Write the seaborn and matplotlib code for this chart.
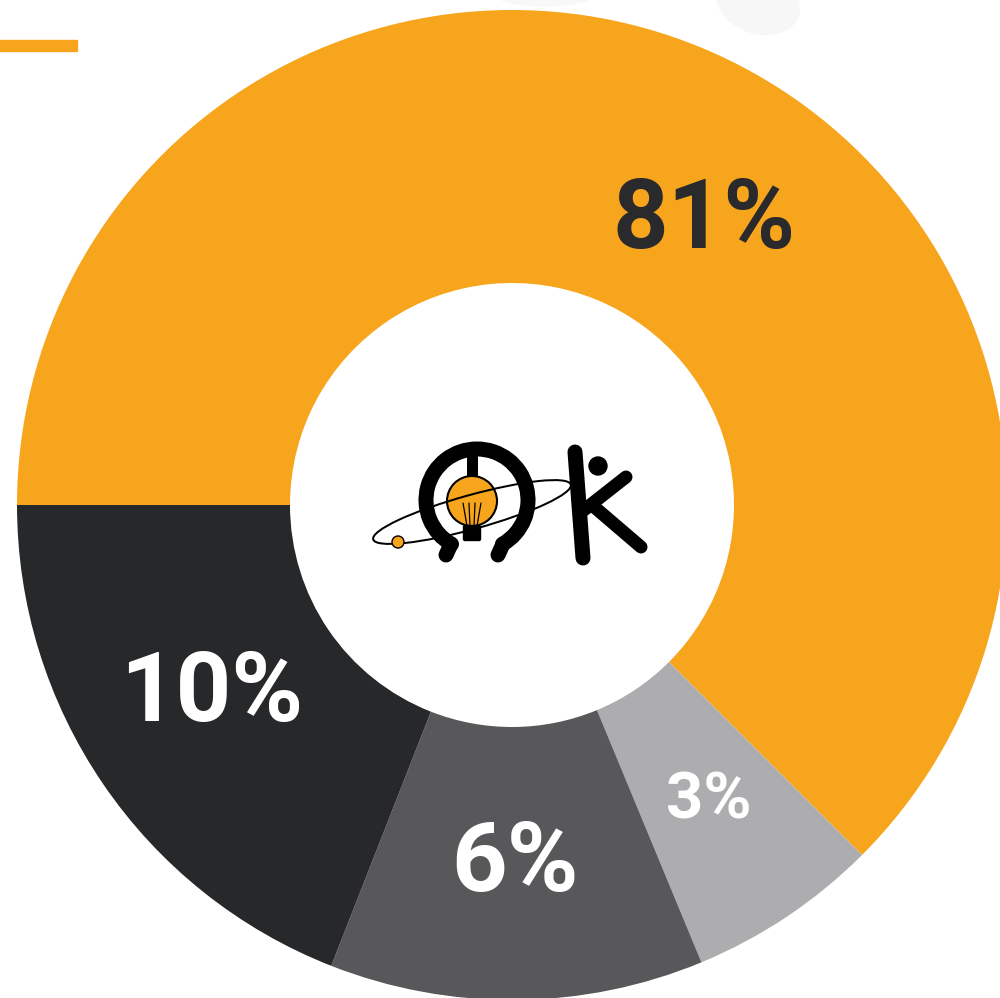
import numpy as np
import matplotlib
matplotlib.use("Agg")
import matplotlib.pyplot as plt
import matplotlib.patches as mpatches
import seaborn as sns

sns.set_style("white")
plt.rcParams['font.family'] = ['Roboto', 'DejaVu Sans']

# ---- data ----
labels = ['81%', '3%', '6%', '10%']
# angular share of each ring segment as drawn (the artwork is not to scale)
slice_sizes = [62.5, 6.25, 12.2, 19.05]
colors = ['#F7A51C', '#ADADAF', '#58585B', '#27282A']
text_colors = ['#2A2A2D', 'white', 'white', 'white']
font_sizes = [70, 47, 70, 70]
label_nudge = [-10.7, 0.5, 0, -3.4]   # degrees off the segment middle

PX = 0.72  # points per pixel at dpi 100
H = 998

fig = plt.figure(figsize=(10, 9.98), dpi=100)
ax = fig.add_axes([0, 0, 1, 1])

# faint background shapes and the orange accent bar
ax.add_patch(mpatches.Ellipse((758, H - 2), 85, 62, angle=-20, color='#F7F7F7', zorder=0))
ax.add_patch(mpatches.Ellipse((545, H + 6), 100, 24, color='#F8F8F8', zorder=0))
ax.add_patch(mpatches.Rectangle((0, H - 51), 77, 11, color=colors[0], zorder=1))

# ---- donut ----
cx, cy, r_out, r_in = 512, H - 505, 495, 222
wedges, _ = ax.pie(slice_sizes, colors=colors, startangle=180, counterclock=False,
                   center=(cx, cy), radius=r_out,
                   wedgeprops=dict(width=r_out - r_in, linewidth=0))

for w, lab, tc, fs, nud in zip(wedges, labels, text_colors, font_sizes, label_nudge):
    mid = np.deg2rad((w.theta1 + w.theta2) / 2 + nud)
    rr = 350
    ax.text(cx + rr * np.cos(mid), cy + rr * np.sin(mid), lab, color=tc,
            fontsize=fs, fontweight='bold', ha='center', va='center_baseline', zorder=5)

# ---- centre logo ----
lw_k = 15 * PX
arc = mpatches.Arc((477, H - 500), 102, 102, theta1=-60, theta2=240,
                   linewidth=lw_k, color='black', zorder=6)
arc.set_capstyle('round')
ax.add_patch(arc)
ax.plot([451, 446], [H - 544, H - 555], color='black', lw=lw_k, solid_capstyle='round', zorder=6)
ax.plot([503, 498], [H - 544, H - 555], color='black', lw=lw_k, solid_capstyle='round', zorder=6)
ax.plot([472, 472], [H - 450, H - 478], color='black', lw=11 * PX, zorder=6)
ax.add_patch(mpatches.Circle((472, H - 501), 25, facecolor=colors[0], edgecolor='black',
                             linewidth=1.5, zorder=7))
ax.add_patch(mpatches.FancyBboxPatch((465, H - 539), 14, 12, boxstyle='round,pad=1.5',
                                     color='black', zorder=7))
for x0, x1 in [(467, 463), (470, 469), (474, 475), (477, 481)]:
    ax.plot([x0, x1], [H - 526, H - 503], color='black', lw=0.9, zorder=8)
ax.add_patch(mpatches.Ellipse((472, H - 512), 205, 34, angle=15.5, fill=False,
                              edgecolor='black', linewidth=2 * PX, zorder=8))
ax.add_patch(mpatches.Circle((398, H - 542), 6, facecolor=colors[0], edgecolor='black',
                             linewidth=1, zorder=9))
# K figure
ax.plot([575, 583], [H - 452, H - 558], color='black', lw=lw_k, solid_capstyle='round', zorder=6)
ax.add_patch(mpatches.Circle((598, H - 466), 9, color='black', zorder=6))
ax.plot([584, 626], [H - 510, H - 477], color='black', lw=13 * PX, solid_capstyle='round', zorder=6)
ax.plot([592, 641], [H - 505, H - 547], color='black', lw=13 * PX, solid_capstyle='round', zorder=6)

ax.set_xlim(0, 1000)
ax.set_ylim(0, H)
ax.set_aspect('auto')
ax.axis('off')

fig.savefig('out.png', dpi=100, facecolor='white')
